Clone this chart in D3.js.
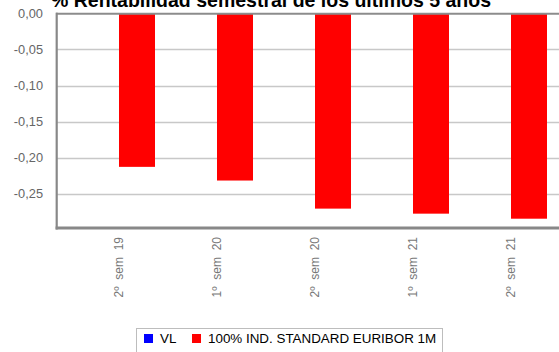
<!DOCTYPE html>
<html>
<head>
<meta charset="utf-8">
<script src="https://cdn.jsdelivr.net/npm/d3@7"></script>
<style>
  html, body { margin: 0; padding: 0; background: #fff; overflow: hidden; }
  svg { display: block; font-family: "Liberation Sans", Arial, sans-serif; }
</style>
</head>
<body>
<svg id="chart" width="559" height="352"></svg>
<script>
// Semester labels and returns (%)
const categories = ["2º\u00a0\u00a0sem\u00a0\u00a019", "1º\u00a0\u00a0sem\u00a0\u00a020", "2º\u00a0\u00a0sem\u00a0\u00a020", "1º\u00a0\u00a0sem\u00a0\u00a021", "2º\u00a0\u00a0sem\u00a0\u00a021"];
const seriesNames = ["VL", "100% IND. STANDARD EURIBOR 1M"];
const seriesColors = ["#0000ff", "#ff0000"];
const vlValues = [null, null, null, null, null];
const indexValues = [-0.213, -0.232, -0.271, -0.278, -0.285];
const yTicks = [0, -0.05, -0.10, -0.15, -0.20, -0.25];
const titleText = "% Rentabilidad semestral de los últimos 5 años";

const svg = d3.select("#chart");
const plot = { left: 57, top: 13.5, right: 600, bottom: 229.5 };

const x = d3.scaleBand().domain(categories).range([70, 560]).padding(0);
const xSub = d3.scaleBand().domain(seriesNames).range([13, 85]).padding(0);
const y = d3.scaleLinear().domain([-0.30, 0]).range([plot.bottom, plot.top]);

const fmt = v => d3.format(".2f")(v).replace(".", ",").replace("−", "-");

// Title (sits partly above the visible area)
svg.append("text")
  .attr("x", 271).attr("y", 6.5)
  .attr("text-anchor", "middle")
  .attr("font-size", 19.5).attr("font-weight", "bold")
  .attr("fill", "#000")
  .text(titleText);

// Horizontal gridlines
svg.append("g")
  .selectAll("line").data(yTicks.filter(d => d !== 0)).join("line")
  .attr("x1", plot.left).attr("x2", plot.right)
  .attr("y1", d => Math.round(y(d)) + 0.5).attr("y2", d => Math.round(y(d)) + 0.5)
  .attr("stroke", "#c8c8c8").attr("stroke-width", 1.5);

// Y axis labels
const yAxis = d3.axisLeft(y).tickValues(yTicks).tickFormat(fmt).tickSize(0).tickPadding(0);
const gy = svg.append("g").attr("transform", `translate(43,0)`).call(yAxis);
gy.select(".domain").remove();
gy.selectAll("text").attr("font-size", 12.8).attr("fill", "#666")
  .attr("font-family", "Liberation Sans, Arial, sans-serif");

// Bars
const rows = categories.map((c, i) => ({ cat: c, vals: [vlValues[i], indexValues[i]] }));
const groups = svg.append("g").selectAll("g").data(rows).join("g")
  .attr("transform", d => `translate(${x(d.cat)},0)`);
groups.selectAll("rect")
  .data(d => d.vals.map((v, j) => ({ key: seriesNames[j], v, color: seriesColors[j] })).filter(e => e.v != null))
  .join("rect")
  .attr("x", d => xSub(d.key))
  .attr("width", xSub.bandwidth())
  .attr("y", d => y(Math.max(0, d.v)))
  .attr("height", d => Math.abs(y(d.v) - y(0)))
  .attr("fill", d => d.color);

// Plot frame
svg.append("line").attr("x1", plot.left - 1).attr("x2", plot.right)
  .attr("y1", 13.7).attr("y2", 13.7).attr("stroke", "#8c8c8c").attr("stroke-width", 2);
svg.append("line").attr("x1", 56.7).attr("x2", 56.7)
  .attr("y1", 12.7).attr("y2", 229.5).attr("stroke", "#888").attr("stroke-width", 2.2);
svg.append("line").attr("x1", 55.6).attr("x2", plot.right)
  .attr("y1", 228).attr("y2", 228).attr("stroke", "#888").attr("stroke-width", 2.8);

// X axis labels, rotated
const xAxis = d3.axisBottom(x).tickSize(0).tickPadding(0);
const gx = svg.append("g").attr("transform", `translate(0,237)`).call(xAxis);
gx.select(".domain").remove();
gx.selectAll("text")
  .attr("font-size", 12).attr("fill", "#777")
  .attr("font-family", "Liberation Sans, Arial, sans-serif")
  .attr("text-anchor", "end")
  .attr("transform", "rotate(-90)")
  .attr("x", 0).attr("y", 0).attr("dy", "0.35em");

// Legend
const legend = svg.append("g");
legend.append("rect")
  .attr("x", 136.5).attr("y", 328.5).attr("width", 306).attr("height", 30)
  .attr("fill", "#fff").attr("stroke", "#bdbdbd");
const legendX = [144, 192];
seriesNames.forEach((name, i) => {
  legend.append("rect").attr("x", legendX[i]).attr("y", 334).attr("width", 9).attr("height", 9)
    .attr("fill", seriesColors[i]);
  legend.append("text").attr("x", legendX[i] + 16).attr("y", 343)
    .attr("font-size", 13.4).attr("fill", "#000").text(name);
});
</script>
</body>
</html>
